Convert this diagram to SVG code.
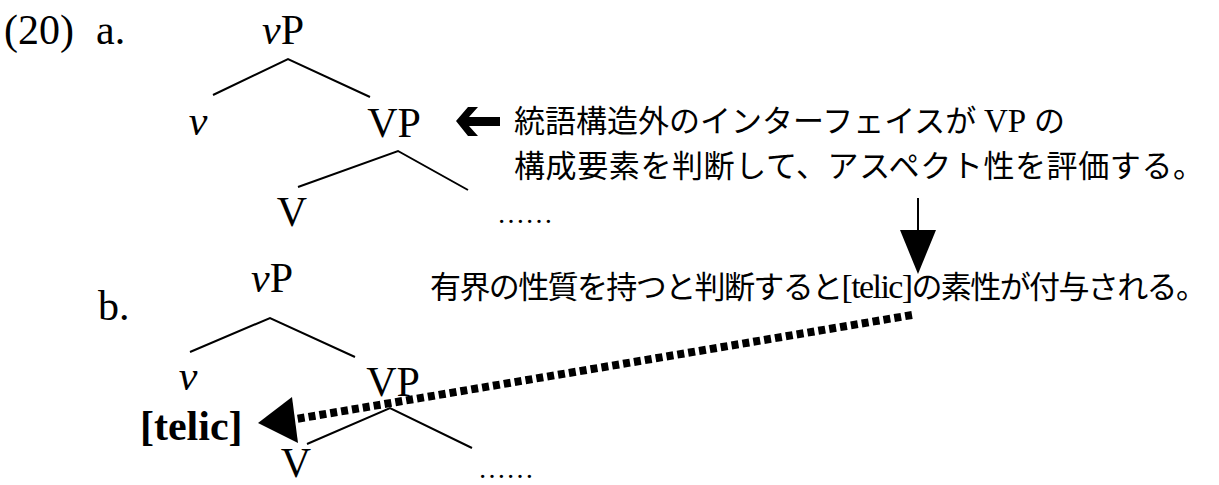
<svg xmlns="http://www.w3.org/2000/svg" width="1219" height="485" viewBox="0 0 1219 485">
<style>
.lat{font-family:"Liberation Serif","Times New Roman",serif;font-size:42px;fill:#000}
.mid{text-anchor:middle}
.jp{font-family:"Liberation Serif","Noto Sans CJK JP",serif;font-size:31px;fill:#000}
.it{font-style:italic}
.br{stroke:#000;stroke-width:2;fill:none}
.dots{font-family:"Liberation Serif",serif;font-size:28px;fill:#000}
</style>
<rect width="1219" height="485" fill="#fff"/>
<g id="label-20a"><text class="lat" x="4" y="44" font-size="40">(20)</text><text class="lat" x="96" y="44" font-size="40">a.</text></g>
<g id="a-vP"><text class="lat mid" x="283" y="44"><tspan class="it">v</tspan>P</text></g>
<g id="a-v"><text class="lat mid it" x="198" y="135">v</text></g>
<g id="a-VP"><text class="lat mid" x="394" y="137">VP</text></g>
<g id="a-V"><text class="lat mid" x="292" y="226">V</text></g>
<g id="a-dots"><text class="dots" x="497" y="223">……</text></g>
<g id="a-note"><text class="jp" x="514" y="132">統語構造外のインターフェイスが <tspan font-size="33">VP</tspan> の</text><text class="jp" x="514" y="177" textLength="690">構成要素を判断して、アスペクト性を評価する。</text></g>
<g id="label-b"><text class="lat" x="98" y="320" font-size="40">b.</text></g>
<g id="b-vP"><text class="lat mid" x="272" y="292"><tspan class="it">v</tspan>P</text></g>
<g id="b-note"><text class="jp" x="430" y="298" textLength="777">有界の性質を持つと判断すると<tspan font-size="34">[telic]</tspan>の素性が付与される。</text></g>
<g id="b-v"><text class="lat mid it" x="188" y="390">v</text></g>
<g id="b-VP"><text class="lat mid" x="393" y="396">VP</text></g>
<g id="b-telic"><text class="lat" x="140" y="440" font-size="46" font-weight="bold">[telic]</text></g>
<g id="b-V"><text class="lat mid" x="296" y="477">V</text></g>
<g id="b-dots"><text class="dots" x="478" y="478">……</text></g>
<g id="connectors">
<path class="br" d="M213,95 L288,59 L370,97"/>
<path class="br" d="M298,187 L398,151 L468,190"/>
<path class="br" d="M190,352 L270,318 L355,357"/>
<path class="br" d="M307,444 L390,408 L472,448"/>
<polygon points="456,121 468,107 478,107 469,117 500,117 500,126 469,126 478,136 468,136" fill="#000"/>
<line x1="918" y1="198" x2="918" y2="232" stroke="#000" stroke-width="2"/>
<polygon points="900,230 936,230 918,274" fill="#000"/>
<line x1="912" y1="315" x2="296" y2="419" stroke="#000" stroke-width="8" stroke-dasharray="7 4"/>
<polygon points="258,423 292,397 298,443" fill="#000"/>
</g>
</svg>
